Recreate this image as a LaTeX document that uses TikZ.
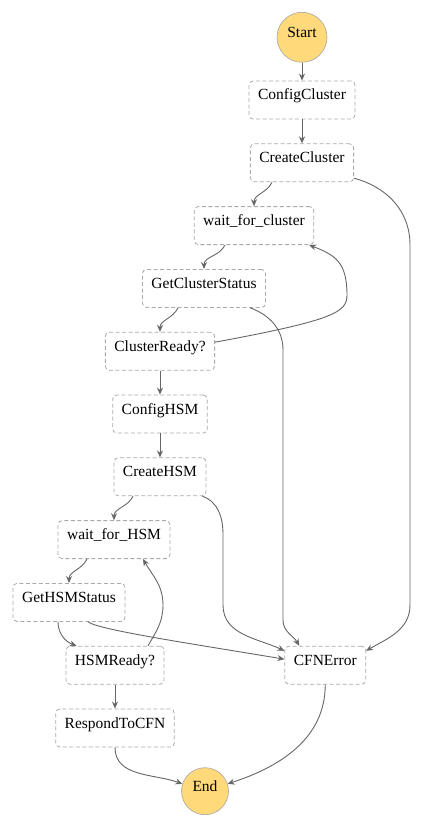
\documentclass[tikz,border=0pt]{standalone}
\usepackage{fontspec}
\setmainfont{Liberation Serif}
\usetikzlibrary{arrows.meta,positioning}
\definecolor{stategold}{HTML}{FFD97A}
\definecolor{boxline}{HTML}{AAAAAA}
\definecolor{edgeline}{HTML}{666666}

\begin{document}
\begin{tikzpicture}[
    x=1pt, y=-1pt,
    node distance=24pt,
    font=\fontsize{15.5}{18}\selectfont,
    state/.style={rectangle, draw=boxline, dash pattern=on 4pt off 2.5pt, rounded corners=4pt, fill=white, line width=0.8pt, inner xsep=9pt, inner ysep=7pt, text height=12pt, text depth=12pt},
    terminal/.style={circle, draw=gray!70, fill=stategold, line width=0.6pt, inner sep=0pt, text height=11pt, text depth=11pt},
    arrow/.style={->,>={Stealth[length=7pt,width=6pt]}, draw=edgeline, line width=0.9pt}
]
    \useasboundingbox (0,0) rectangle (424,824);

    \node[state] (cfgc) at (302,100) {ConfigCluster};
    \node[terminal, minimum size=50pt, above=18pt of cfgc] (start) {Start};
    \node[state, below=of cfgc] (crc) {CreateCluster};
    \node[state, below=of crc, xshift=-48pt] (wfc) {wait\_for\_cluster};
    \node[state, below=of wfc, xshift=-50pt] (gcs) {GetClusterStatus};
    \node[state, below=of gcs, xshift=-44pt] (crdy) {ClusterReady?};
    \node[state, below=of crdy] (cfgh) {ConfigHSM};
    \node[state, below=of cfgh] (crh) {CreateHSM};
    \node[state, below=of crh, xshift=-46pt] (wfh) {wait\_for\_HSM};
    \node[state, below=of wfh, xshift=-45pt] (ghs) {GetHSMStatus};
    \node[state, below=of ghs, xshift=46pt] (hrdy) {HSMReady?};
    \node[state, right=120pt of hrdy] (cfn) {CFNError};
    \node[state, below=of hrdy] (resp) {RespondToCFN};
    \node[terminal, minimum size=47pt, below=20pt of resp, xshift=90pt] (end) {End};

    \draw[arrow] (start) -- (cfgc);
    \draw[arrow] (cfgc) -- (crc);
    \draw[arrow] ([xshift=-30pt]crc.south) to[out=-115,in=90] (wfc.north);
    \draw[arrow] ([yshift=4pt]crc.south east) to[out=-15,in=90] (410,245) -- (410,605) to[out=-90,in=30] ([yshift=-5pt]cfn.north east);
    \draw[arrow] ([xshift=-29pt]wfc.south) to[out=-115,in=90] (gcs.north);
    \draw[arrow] ([xshift=-26pt]gcs.south) to[out=-115,in=90] (crdy.north);
    \draw[arrow] ([xshift=46pt]gcs.south) to[out=-20,in=90] (283,350) -- (283,620) to[out=-90,in=120] ([xshift=-26pt]cfn.north);
    \draw[arrow] ([yshift=9pt]crdy.east) .. controls (335,320) and (347,312) .. (347,295) .. controls (347,262) and (335,255) .. ([xshift=-5pt]wfc.south east);
    \draw[arrow] (crdy) -- (cfgh);
    \draw[arrow] (cfgh) -- (crh);
    \draw[arrow] ([xshift=-27pt]crh.south) to[out=-115,in=90] (wfh.north);
    \draw[arrow] ([xshift=-4pt]crh.south east) to[out=-20,in=90] (223,535) -- (223,605) to[out=-90,in=155] ([yshift=-5pt]cfn.north west);
    \draw[arrow] ([xshift=-27pt]wfh.south) to[out=-115,in=90] (ghs.north);
    \draw[arrow] ([xshift=-11pt]ghs.south) to[out=-90,in=160] ([xshift=11pt]hrdy.north west);
    \draw[arrow] ([xshift=19pt]ghs.south) .. controls (98,630) and (200,645) .. ([yshift=6pt]cfn.west);
    \draw[arrow] ([xshift=33pt]hrdy.north) to[out=60,in=-90] (163,605) to[out=90,in=-60] ([xshift=29pt]wfh.south);
    \draw[arrow] (hrdy) -- (resp);
    \draw[arrow] (resp.south) to[out=-90,in=160] (end.162);
    \draw[arrow] (cfn.south) to[out=-90,in=18] (end.18);
\end{tikzpicture}
\end{document}
